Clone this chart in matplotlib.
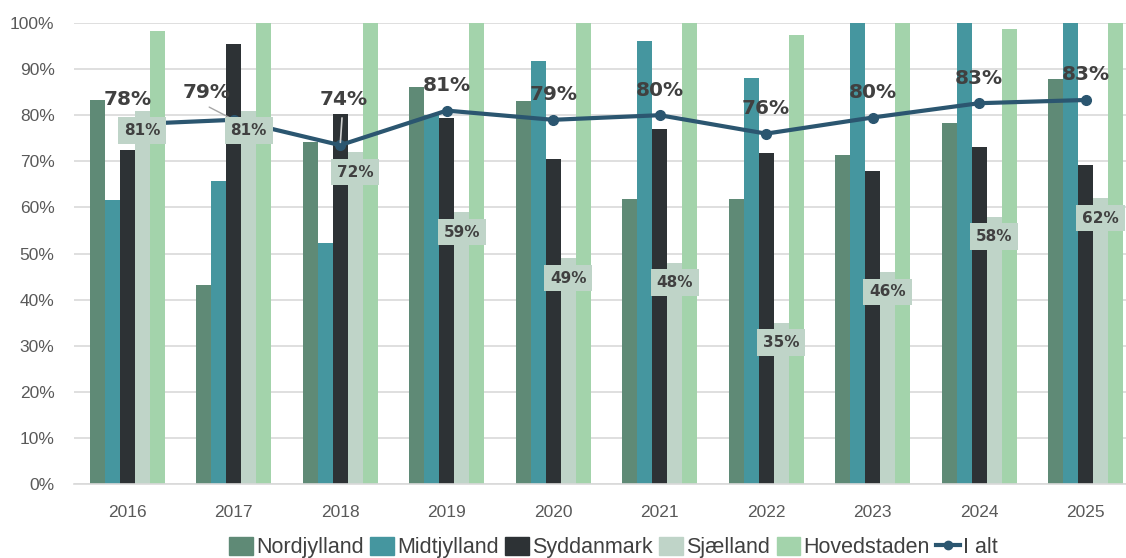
import matplotlib
matplotlib.use("Agg")
import matplotlib.pyplot as plt
import numpy as np
from matplotlib.patches import Patch
from matplotlib.lines import Line2D

years = ["2016", "2017", "2018", "2019", "2020", "2021", "2022", "2023", "2024", "2025"]

# values (share, 0-1)
nordjylland = [0.833, 0.432, 0.741, 0.861, 0.831, 0.619, 0.619, 0.714, 0.784, 0.879]
midtjylland = [0.616, 0.657, 0.523, 0.800, 0.917, 0.960, 0.881, 1.000, 1.000, 1.000]
syddanmark = [0.725, 0.955, 0.802, 0.795, 0.706, 0.769, 0.717, 0.679, 0.730, 0.692]
sjaelland = [0.81, 0.81, 0.72, 0.59, 0.49, 0.48, 0.35, 0.46, 0.58, 0.62]
hovedstaden = [0.982, 1.000, 1.000, 1.000, 1.000, 1.000, 0.975, 1.000, 0.987, 1.000]
i_alt = [0.78, 0.79, 0.735, 0.81, 0.79, 0.80, 0.76, 0.795, 0.826, 0.833]
i_alt_labels = ["78%", "79%", "74%", "81%", "79%", "80%", "76%", "80%", "83%", "83%"]
sjaelland_labels = ["81%", "81%", "72%", "59%", "49%", "48%", "35%", "46%", "58%", "62%"]

series = [("Nordjylland", nordjylland, "#5f8a76"),
          ("Midtjylland", midtjylland, "#45969f"),
          ("Syddanmark", syddanmark, "#2d3235"),
          ("Sjælland", sjaelland, "#bfd4c8"),
          ("Hovedstaden", hovedstaden, "#a3d3ab")]
line_color = "#2b5670"
text_color = "#404040"

plt.rcParams["font.family"] = ["Liberation Sans", "DejaVu Sans"]

fig = plt.figure(figsize=(11.26, 5.58), dpi=100)
ax = fig.add_axes([74 / 1126, 1 - 484 / 558, 1 - 74 / 1126, (484 - 23) / 558])

x = np.arange(len(years))
w = 0.141
for i, (name, vals, col) in enumerate(series):
    ax.bar(x + (i - 2) * w, vals, width=w, color=col, zorder=2, label=name)

ax.plot(x, i_alt, color=line_color, lw=3, marker="o", ms=7, zorder=3)

# labels on the total line
offsets = {1: (-27, 27), 2: (3, 46)}
for i, (v, lab) in enumerate(zip(i_alt, i_alt_labels)):
    dx, dy = offsets.get(i, (0, 25))
    ax.annotate(lab, (x[i], v), xytext=(dx, dy), textcoords="offset pixels",
                ha="center", va="center", fontsize=14.5, fontweight="bold",
                color=text_color, family="DejaVu Sans", zorder=6)
# leader lines
ax.annotate("", (x[1], i_alt[1]), xytext=(-27, 14), textcoords="offset pixels",
            arrowprops=dict(arrowstyle="-", color="#a6a6a6", lw=1), zorder=4)
ax.annotate("", (x[2], i_alt[2]), xytext=(2, 30), textcoords="offset pixels",
            arrowprops=dict(arrowstyle="-", color="#d0d0d0", lw=1.2), zorder=4)

# labels on the Sjælland bars
for i, (v, lab) in enumerate(zip(sjaelland, sjaelland_labels)):
    ax.annotate(lab, (x[i] + w, v), xytext=(0, -20), textcoords="offset pixels",
                ha="center", va="center", fontsize=11, fontweight="bold",
                color=text_color, family="DejaVu Sans", zorder=5,
                bbox=dict(boxstyle="square,pad=0.38", fc="#bfd4c8", ec="none"))

ax.set_ylim(0, 1)
ax.set_xlim(-0.5, 9.38)
ax.set_yticks(np.arange(0, 1.01, 0.1))
ax.set_yticklabels([f"{int(round(t * 100))}%" for t in np.arange(0, 1.01, 0.1)])
ax.set_xticks(x)
ax.set_xticklabels(years)
ax.tick_params(axis="both", length=0, labelsize=12.5, labelcolor="#595959")
ax.tick_params(axis="y", pad=14)
ax.tick_params(axis="x", pad=15)
ax.grid(axis="y", color="#d9d9d9", lw=1.2, zorder=0)
for s in ["top", "right", "left"]:
    ax.spines[s].set_visible(False)
ax.spines["bottom"].set_color("#d9d9d9")
ax.spines["bottom"].set_linewidth(1.2)

handles = [Patch(color=c, label=n) for n, _, c in series]
handles.append(Line2D([], [], color=line_color, lw=3, marker="o", ms=6, label="I alt"))
fig.legend(handles=handles, loc="lower center", bbox_to_anchor=(0.545, -0.035), ncol=6,
           frameon=False, fontsize=15.5, handlelength=1.1, handleheight=0.9,
           handletextpad=0.15, columnspacing=0.3, labelcolor="#404040")

fig.savefig("out.png", dpi=100)
